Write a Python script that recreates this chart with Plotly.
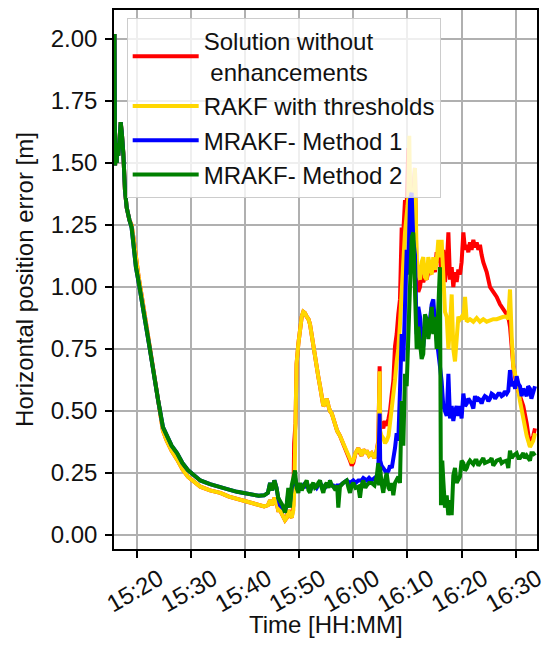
import pandas as pd
import plotly.graph_objects as go

# Time axis: minutes after 15:00 on the day of the test drive
BASE = pd.Timestamp("2021-01-01 15:00:00")

# Convergence phase shared by all four filters (minutes, metres)
t_decay = [15.84, 15.95, 16.1, 16.25, 16.4, 16.55, 16.75, 16.99, 17.2, 17.47,
           17.78, 18.1, 18.6, 19.0, 19.4, 19.8, 20.3, 20.9, 21.6, 22.4,
           23.1, 23.9, 24.8, 25.5, 26.4, 27.4, 28.4, 29.4, 30.5, 31.7,
           33.5, 35.4, 37.0, 38.5, 40.0, 41.4, 42.5, 43.5, 44.2, 44.6,
           45.0, 45.4, 45.8, 46.1]
mrakf_decay = [2.02, 1.49, 1.56, 1.50, 1.58, 1.53, 1.63, 1.665, 1.62, 1.54,
               1.39, 1.32, 1.27, 1.24, 1.16, 1.08, 1.02, 0.95, 0.85, 0.746,
               0.64, 0.544, 0.435, 0.40, 0.36, 0.33, 0.29, 0.262, 0.24, 0.22,
               0.205, 0.195, 0.183, 0.174, 0.168, 0.161, 0.158, 0.16, 0.17, 0.21,
               0.18, 0.22, 0.19, 0.15]
rakf_decay = [2.02, 1.49, 1.56, 1.50, 1.58, 1.53, 1.63, 1.665, 1.62, 1.54,
              1.39, 1.32, 1.27, 1.25, 1.19, 1.11, 1.04, 0.96, 0.86, 0.75,
              0.64, 0.54, 0.42, 0.38, 0.34, 0.305, 0.265, 0.235, 0.215, 0.195,
              0.18, 0.17, 0.155, 0.145, 0.135, 0.125, 0.12, 0.115, 0.12, 0.14,
              0.12, 0.15, 0.13, 0.10]

# Solution without enhancements
t_base = [46.43, 46.9, 47.36, 47.7, 47.97, 48.28, 48.6, 48.9, 49.05, 49.3,
          49.5, 49.82, 50.13, 50.45, 50.74, 51.05, 51.37, 51.7, 51.98, 52.3,
          52.59, 52.9, 53.22, 53.5, 53.83, 54.15, 54.44, 54.75, 55.07, 55.4,
          55.67, 56.0, 56.29, 56.7, 57.0, 57.52, 58.1, 58.76, 59.37, 59.7,
          59.98, 60.4, 60.91, 61.22, 61.5, 61.83, 62.2, 62.46, 62.9, 63.38,
          63.9, 64.31, 64.6, 64.85, 64.95, 65.2, 65.53, 65.85, 66.15, 66.5,
          66.77, 67.1, 67.38, 67.69, 68.0, 68.3, 68.61, 68.93, 69.23, 69.54,
          69.85, 70.15, 70.3, 70.46, 70.77, 71.07, 71.38, 71.55, 71.7, 72.0,
          72.31, 72.62, 72.92, 73.23, 73.54, 73.85, 74.16, 74.47, 74.77, 75.08,
          75.39, 75.7, 76.0, 76.31, 76.62, 76.93, 77.25, 77.56, 77.86, 78.17,
          78.47, 78.78, 79.09, 79.4, 79.7, 80.0, 80.33, 80.64, 80.95, 81.25,
          81.55, 81.85, 82.17, 82.48, 82.79, 83.1, 83.4, 83.7, 84.01, 84.64,
          85.25, 85.86, 86.49, 87.1, 87.71, 88.34, 88.63, 88.95, 89.26, 89.56,
          90.18, 90.8, 91.41, 92.03, 92.64, 93.25, 93.57]
err_base = [0.10, 0.08, 0.06, 0.07, 0.10, 0.08, 0.07, 0.12, 0.37, 0.45,
            0.69, 0.77, 0.83, 0.88, 0.90, 0.895, 0.88, 0.87, 0.85, 0.80,
            0.76, 0.72, 0.68, 0.64, 0.60, 0.56, 0.52, 0.53, 0.55, 0.52,
            0.50, 0.49, 0.47, 0.44, 0.42, 0.40, 0.37, 0.34, 0.30, 0.28,
            0.29, 0.33, 0.35, 0.33, 0.32, 0.345, 0.33, 0.34, 0.32, 0.33,
            0.31, 0.34, 0.38, 0.68, 0.46, 0.45, 0.43, 0.46, 0.44, 0.47,
            0.50, 0.57, 0.62, 0.76, 0.81, 0.89, 0.95, 1.24, 1.22, 1.35,
            1.33, 1.56, 1.40, 1.36, 1.38, 1.35, 1.48, 1.30, 1.02, 0.98,
            1.00, 1.05, 1.02, 1.04, 1.03, 1.06, 1.05, 1.08, 1.08, 1.06,
            1.14, 1.10, 1.12, 1.04, 1.15, 1.02, 1.08, 1.22, 1.03, 1.08,
            1.00, 1.06, 1.02, 1.07, 1.05, 1.10, 1.22, 1.15, 1.17, 1.14,
            1.18, 1.15, 1.19, 1.16, 1.18, 1.15, 1.17, 1.13, 1.10, 1.06,
            1.00, 0.98, 0.96, 0.93, 0.91, 0.89, 0.88, 0.84, 0.76, 0.68,
            0.60, 0.56, 0.52, 0.45, 0.36, 0.40, 0.43]

# RAKF with thresholds
t_rakf = [46.43, 46.9, 47.36, 47.7, 47.97, 48.28, 48.6, 48.9, 49.1, 49.3,
          49.5, 49.82, 50.13, 50.45, 50.74, 51.05, 51.37, 51.7, 51.98, 52.3,
          52.59, 52.9, 53.22, 53.5, 53.83, 54.15, 54.44, 54.75, 55.07, 55.4,
          55.67, 56.0, 56.29, 56.7, 57.0, 57.52, 58.1, 58.76, 59.37, 59.7,
          59.98, 60.4, 60.91, 61.22, 61.5, 61.83, 62.2, 62.46, 62.9, 63.38,
          63.9, 64.31, 64.6, 64.85, 64.95, 65.2, 65.53, 65.85, 66.15, 66.5,
          66.77, 67.1, 67.38, 67.69, 68.0, 68.3, 68.61, 68.93, 69.23, 69.54,
          69.85, 70.15, 70.33, 70.46, 70.77, 71.07, 71.38, 71.55, 71.7, 72.0,
          72.31, 72.62, 72.92, 73.23, 73.54, 73.85, 74.16, 74.47, 74.77, 75.08,
          75.39, 75.7, 76.0, 76.31, 76.62, 76.93, 77.25, 77.56, 77.86, 78.17,
          78.47, 78.78, 79.09, 79.4, 79.7, 80.0, 80.33, 80.64, 80.95, 81.55,
          82.17, 82.79, 83.4, 84.01, 84.64, 85.25, 85.86, 86.49, 87.1, 87.71,
          88.34, 88.63, 88.95, 89.1, 89.26, 89.56, 90.18, 90.8, 91.41, 92.03,
          92.64, 93.25, 93.57]
err_rakf = [0.10, 0.08, 0.06, 0.07, 0.10, 0.08, 0.07, 0.10, 0.20, 0.45,
            0.69, 0.77, 0.83, 0.88, 0.90, 0.895, 0.88, 0.87, 0.85, 0.80,
            0.76, 0.72, 0.68, 0.64, 0.60, 0.56, 0.52, 0.53, 0.55, 0.52,
            0.50, 0.49, 0.47, 0.44, 0.42, 0.40, 0.37, 0.34, 0.31, 0.29,
            0.30, 0.33, 0.35, 0.33, 0.32, 0.345, 0.33, 0.34, 0.32, 0.33,
            0.31, 0.34, 0.37, 0.66, 0.42, 0.40, 0.39, 0.37, 0.38, 0.40,
            0.45, 0.52, 0.55, 0.625, 0.70, 0.75, 0.85, 1.01, 1.10, 1.22,
            1.30, 1.36, 1.61, 1.40, 1.30, 1.33, 1.48, 1.25, 1.11, 1.05,
            1.03, 1.10, 1.12, 1.04, 1.03, 1.12, 1.08, 1.05, 1.12, 1.07,
            1.10, 1.19, 1.12, 1.19, 1.05, 0.90, 0.88, 0.75, 0.84, 0.97,
            0.75, 0.70, 0.79, 0.88, 0.87, 0.88, 0.87, 0.96, 0.86, 0.87,
            0.86, 0.875, 0.86, 0.87, 0.86, 0.865, 0.87, 0.87, 0.875, 0.88,
            0.88, 0.87, 0.99, 0.85, 0.80, 0.68, 0.62, 0.54, 0.46, 0.40,
            0.355, 0.38, 0.41]

# MRAKF - Method 1
t_m1 = [46.43, 46.9, 47.36, 47.7, 47.97, 48.28, 48.6, 48.9, 49.21, 49.5,
        49.82, 50.13, 50.45, 50.74, 51.05, 51.37, 51.7, 51.98, 52.3, 52.59,
        52.9, 53.22, 53.5, 53.83, 54.15, 54.44, 54.75, 55.07, 55.4, 55.67,
        56.0, 56.29, 56.7, 57.0, 57.52, 58.1, 58.76, 59.37, 59.98, 60.4,
        60.91, 61.5, 61.83, 62.46, 62.9, 63.38, 63.9, 64.31, 64.6, 64.85,
        64.95, 65.2, 65.53, 65.85, 66.15, 66.5, 66.77, 67.1, 67.38, 67.69,
        68.0, 68.3, 68.61, 68.93, 69.23, 69.54, 69.85, 70.15, 70.46, 70.77,
        71.07, 71.38, 71.7, 72.0, 72.31, 72.62, 72.92, 73.23, 73.54, 73.85,
        74.16, 74.47, 74.77, 75.08, 75.39, 75.7, 76.0, 76.31, 76.62, 76.93,
        77.25, 77.56, 77.86, 78.17, 78.47, 78.78, 79.09, 79.4, 79.7, 80.0,
        80.33, 80.64, 80.95, 81.25, 81.55, 81.85, 82.17, 82.48, 82.79, 83.1,
        83.4, 83.7, 84.01, 84.3, 84.64, 84.95, 85.25, 85.55, 85.86, 86.2,
        86.49, 86.8, 87.1, 87.4, 87.71, 88.0, 88.34, 88.63, 88.95, 89.26,
        89.56, 89.9, 90.18, 90.5, 90.8, 91.1, 91.41, 91.7, 92.03, 92.3,
        92.64, 92.9, 93.25, 93.57]
err_m1 = [0.12, 0.11, 0.10, 0.12, 0.17, 0.13, 0.19, 0.21, 0.23, 0.20,
          0.18, 0.20, 0.19, 0.20, 0.19, 0.21, 0.19, 0.18, 0.19, 0.20,
          0.20, 0.19, 0.20, 0.21, 0.20, 0.19, 0.19, 0.20, 0.20, 0.21,
          0.20, 0.20, 0.19, 0.20, 0.20, 0.21, 0.22, 0.21, 0.22, 0.21,
          0.22, 0.22, 0.23, 0.22, 0.23, 0.22, 0.23, 0.22, 0.25, 0.49,
          0.30, 0.28, 0.27, 0.26, 0.25, 0.26, 0.28, 0.27, 0.30, 0.35,
          0.41, 0.38, 0.58, 0.81, 0.70, 0.95, 1.15, 1.05, 1.35, 1.38,
          1.19, 1.13, 0.81, 0.92, 0.88, 0.80, 0.76, 0.84, 0.80, 0.87,
          0.87, 0.93, 0.95, 0.85, 0.78, 0.74, 0.68, 0.62, 0.52, 0.50,
          0.48, 0.65, 0.47, 0.52, 0.46, 0.50, 0.52, 0.48, 0.52, 0.47,
          0.57, 0.52, 0.53, 0.55, 0.54, 0.53, 0.51, 0.56, 0.54, 0.55,
          0.545, 0.53, 0.55, 0.56, 0.555, 0.54, 0.55, 0.57, 0.565, 0.55,
          0.56, 0.57, 0.57, 0.56, 0.565, 0.58, 0.57, 0.58, 0.665, 0.60,
          0.62, 0.59, 0.64, 0.61, 0.60, 0.56, 0.59, 0.57, 0.56, 0.60,
          0.59, 0.55, 0.58, 0.60]

# MRAKF - Method 2
t_m2 = [46.43, 46.9, 47.36, 47.7, 47.97, 48.28, 48.6, 48.9, 49.21, 49.5,
        49.82, 50.13, 50.45, 50.74, 51.05, 51.37, 51.7, 51.98, 52.3, 52.59,
        52.9, 53.22, 53.5, 53.83, 54.15, 54.44, 54.75, 55.07, 55.4, 55.67,
        56.0, 56.29, 56.7, 57.0, 57.21, 57.35, 57.52, 58.1, 58.76, 59.1,
        59.37, 59.7, 59.98, 60.4, 60.91, 61.22, 61.5, 61.83, 62.2, 62.46,
        62.9, 63.38, 63.9, 64.31, 64.6, 64.75, 64.92, 65.2, 65.53, 65.85,
        66.15, 66.5, 66.77, 67.1, 67.38, 67.7, 68.0, 68.31, 68.61, 68.93,
        69.23, 69.54, 69.85, 70.15, 70.46, 70.77, 71.07, 71.38, 71.7, 72.0,
        72.31, 72.62, 72.92, 73.23, 73.54, 73.85, 74.16, 74.47, 74.77, 75.08,
        75.39, 75.7, 76.0, 76.19, 76.43, 76.62, 76.93, 77.25, 77.54, 77.86,
        78.17, 78.47, 78.78, 79.09, 79.4, 79.7, 80.0, 80.33, 80.64, 80.95,
        81.25, 81.55, 82.17, 82.5, 82.79, 83.1, 83.4, 84.01, 84.3, 84.64,
        85.25, 85.55, 85.86, 86.49, 87.1, 87.4, 87.71, 88.34, 88.63, 88.95,
        89.26, 89.56, 90.18, 90.5, 90.8, 91.41, 91.7, 92.03, 92.64, 92.9,
        93.25, 93.57]
err_m2 = [0.14, 0.12, 0.09, 0.13, 0.19, 0.11, 0.20, 0.23, 0.26, 0.19,
          0.17, 0.21, 0.18, 0.195, 0.21, 0.22, 0.18, 0.17, 0.20, 0.21,
          0.19, 0.195, 0.21, 0.22, 0.19, 0.17, 0.20, 0.21, 0.19, 0.22,
          0.20, 0.195, 0.18, 0.20, 0.11, 0.19, 0.195, 0.21, 0.22, 0.19,
          0.17, 0.20, 0.21, 0.19, 0.195, 0.15, 0.20, 0.22, 0.19, 0.20,
          0.21, 0.21, 0.20, 0.235, 0.29, 0.20, 0.275, 0.21, 0.17, 0.22,
          0.25, 0.19, 0.18, 0.21, 0.16, 0.21, 0.22, 0.235, 0.21, 0.54,
          0.36, 0.65, 0.60, 0.81, 1.00, 1.20, 1.22, 1.01, 0.75, 0.84,
          0.79, 0.71, 0.73, 0.89, 0.87, 0.79, 0.84, 0.92, 0.81, 0.88,
          0.75, 0.95, 1.08, 0.12, 0.30, 0.22, 0.11, 0.16, 0.08, 0.14,
          0.08, 0.24, 0.27, 0.21, 0.22, 0.235, 0.30, 0.29, 0.26, 0.27,
          0.29, 0.30, 0.285, 0.30, 0.30, 0.28, 0.29, 0.31, 0.29, 0.295,
          0.30, 0.31, 0.28, 0.30, 0.305, 0.29, 0.295, 0.30, 0.27, 0.34,
          0.31, 0.32, 0.33, 0.31, 0.31, 0.33, 0.31, 0.32, 0.30, 0.33,
          0.33, 0.32]

series = [
    ("Solution without<br> enhancements", "#ff0000", t_decay + t_base, rakf_decay + err_base),
    ("RAKF with thresholds", "#ffd700", t_decay + t_rakf, rakf_decay + err_rakf),
    ("MRAKF- Method 1", "#0000ff", t_decay + t_m1, mrakf_decay + err_m1),
    ("MRAKF- Method 2", "#008000", t_decay + t_m2, mrakf_decay + err_m2),
]


def to_time(minutes):
    return [BASE + pd.Timedelta(minutes=m) for m in minutes]


FONT = "Liberation Sans, Arial, sans-serif"

fig = go.Figure()
for name, color, t, v in series:
    fig.add_trace(go.Scatter(
        x=to_time(t), y=v, mode="lines", name=name,
        line=dict(color=color, width=4),
    ))

axis_common = dict(
    showgrid=True, gridcolor="#b0b0b0", gridwidth=1.5,
    showline=True, linecolor="black", linewidth=1.5, mirror=True,
    ticks="outside", ticklen=7, tickwidth=1.5, tickcolor="black",
    tickfont=dict(family=FONT, size=24, color="#111111"),
    zeroline=False, automargin=False,
)

fig.update_layout(
    width=547, height=650,
    margin=dict(l=114, r=10, t=10, b=101),
    paper_bgcolor="white", plot_bgcolor="white",
    font=dict(family=FONT, color="#111111"),
    xaxis=dict(
        type="date",
        range=to_time([15.75, 93.94]),
        tick0=BASE + pd.Timedelta(minutes=20), dtick=600000,
        tickformat="%H:%M", tickangle=-30,
        ticklabelshift=22, ticklabelstandoff=-2,
        **axis_common,
    ),
    yaxis=dict(
        range=[-0.0565, 2.117], tick0=0, dtick=0.25, tickformat=".2f",
        ticklabelstandoff=3,
        title=dict(text="Horizontal position error [m]", font=dict(family=FONT, size=24), standoff=10),
        **axis_common,
    ),
    legend=dict(
        x=0.03, y=0.986, xanchor="left", yanchor="top",
        bgcolor="rgba(255,255,255,0.8)", bordercolor="#cccccc", borderwidth=1,
        font=dict(family=FONT, size=24, color="#111111"),
        itemwidth=66,
    ),
    annotations=[dict(
        text="Time [HH:MM]", xref="paper", yref="paper", x=0.5, y=-0.141,
        xanchor="center", yanchor="middle", showarrow=False,
        font=dict(family=FONT, size=24, color="#111111"),
    )],
    showlegend=True,
)

fig.write_html("out.html")
